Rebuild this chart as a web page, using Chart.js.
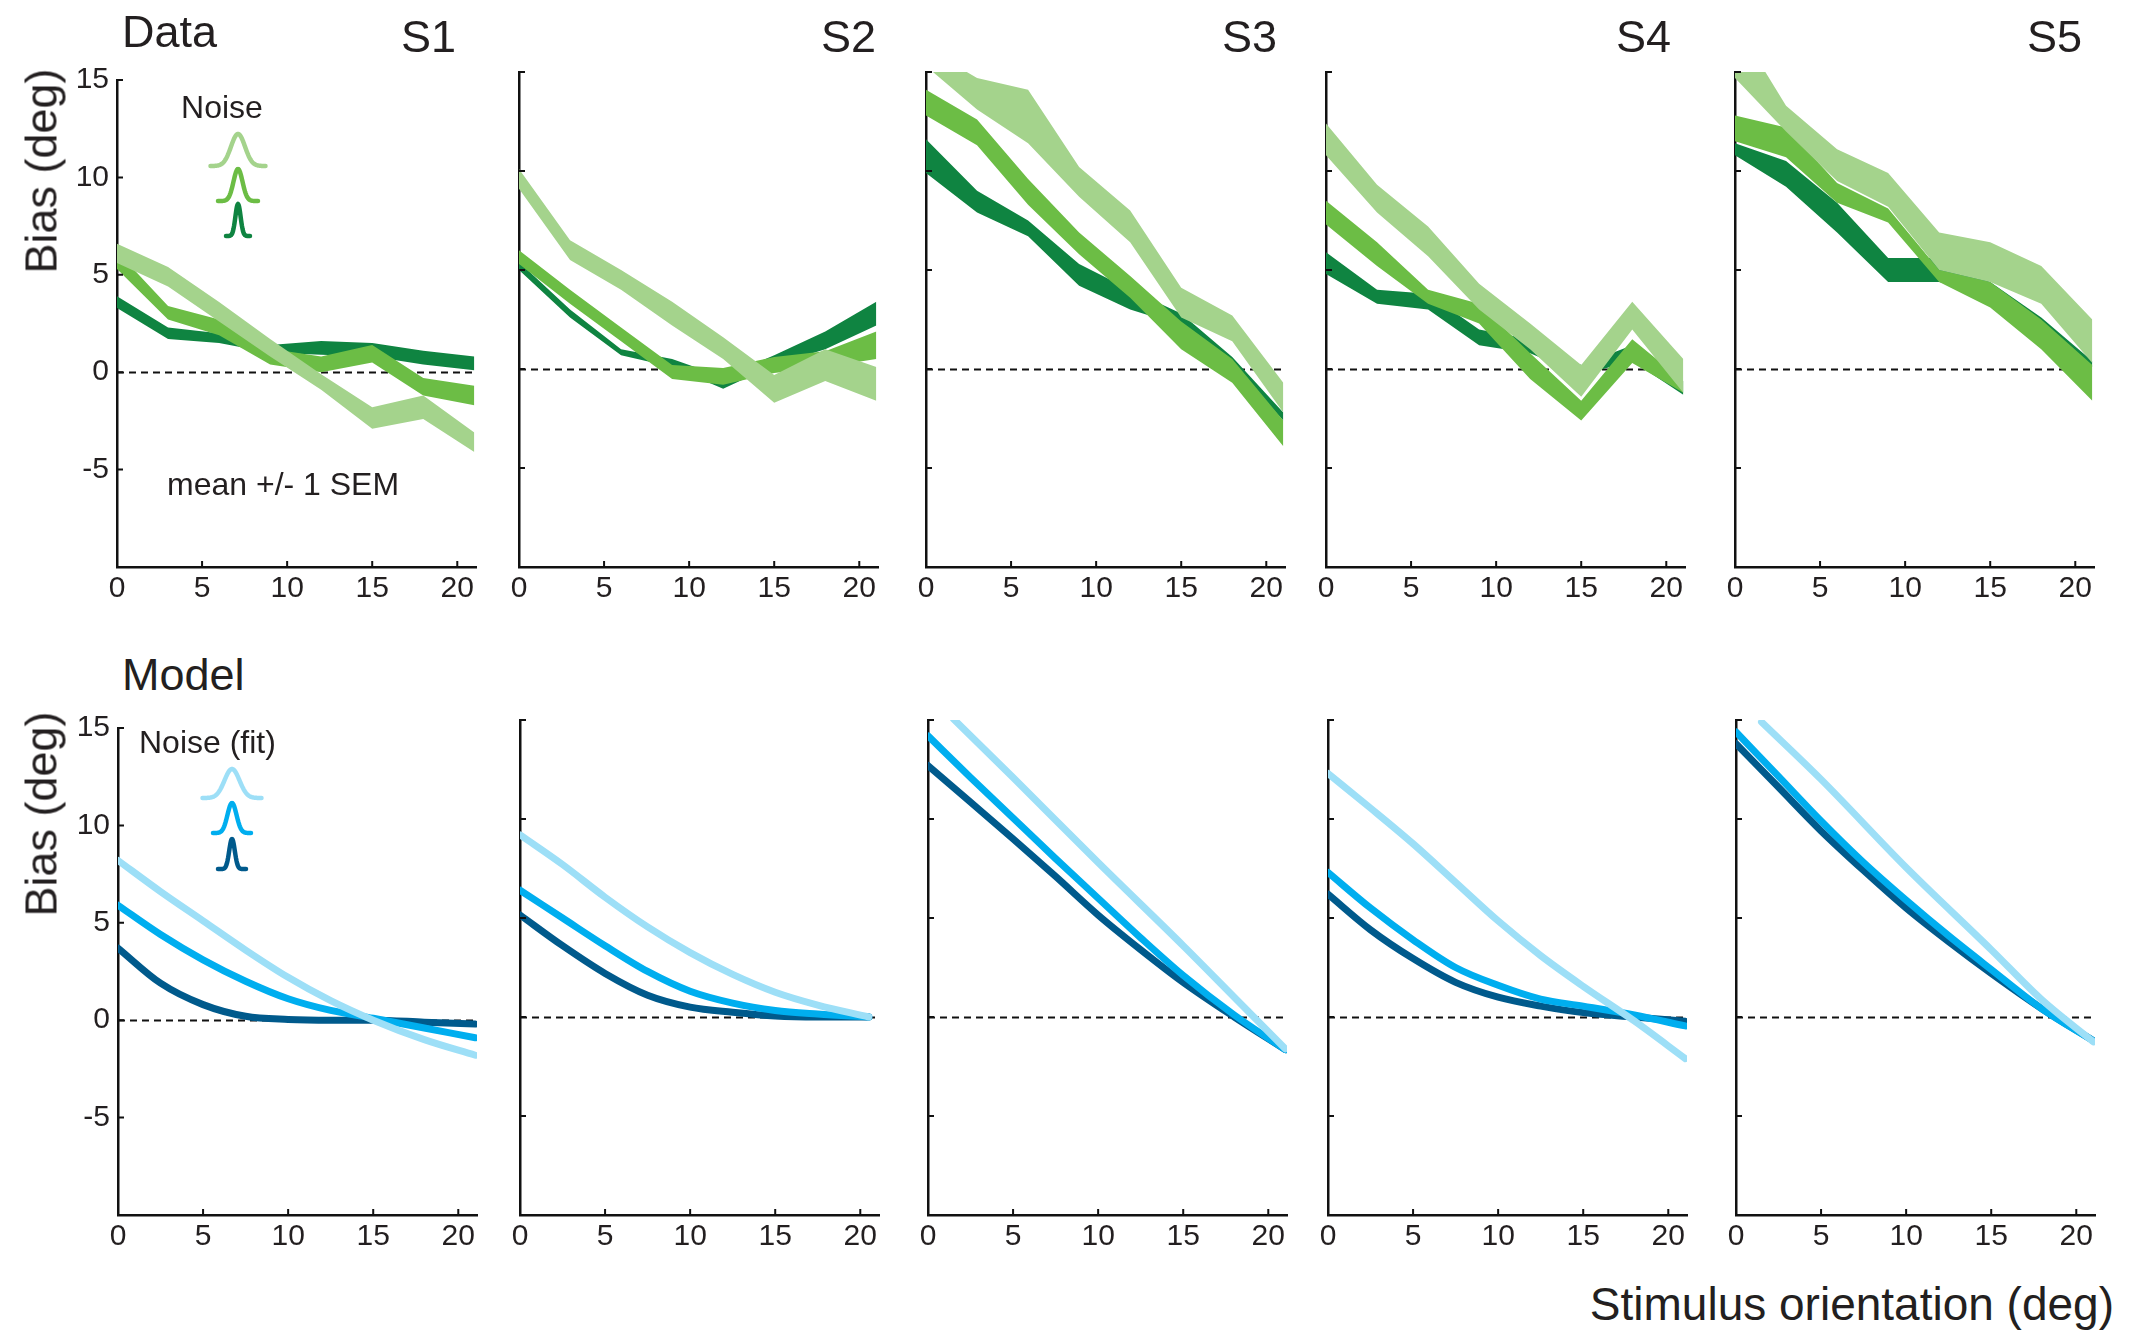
<!DOCTYPE html>
<html>
<head>
<meta charset="utf-8">
<script src="https://cdn.jsdelivr.net/npm/chart.js@4.4.1/dist/chart.umd.min.js"></script>
<style>
  html, body { margin: 0; padding: 0; background: #fff; }
  #fig { position: relative; width: 2130px; height: 1332px; overflow: hidden;
         font-family: "Liberation Sans", Arial, Helvetica, sans-serif; color: #231f20; }
  #fig canvas { position: absolute; }
  .txt { position: absolute; white-space: nowrap; line-height: 1; }
</style>
</head>
<body>
<div id="fig"></div>
<script>
// Bias vs stimulus orientation: data bands (mean +/- 1 SEM) on top row,
// model fits on bottom row, one column per subject.

const SUBJECTS = ['S1', 'S2', 'S3', 'S4', 'S5'];
const ANGLES = [0, 3, 6, 9, 12, 15, 18, 21];
const X_TICKS = [0, 5, 10, 15, 20];
const Y_TICKS = [-5, 0, 5, 10, 15];

// --- data row: upper / lower edge of each band ---
const S1_LIGHT_HI = [6.6, 5.4, 3.6, 1.7, -0.1, -1.8, -1.2, -3.1];
const S1_LIGHT_LO = [5.6, 4.4, 2.6, 0.8, -0.9, -2.9, -2.4, -4.1];
const S1_MED_HI   = [6.2, 3.4, 2.7, 1.2, 0.8, 1.4, -0.3, -0.7];
const S1_MED_LO   = [5.3, 2.7, 1.9, 0.4, 0.0, 0.5, -1.2, -1.7];
const S1_DARK_HI  = [3.9, 2.3, 2.0, 1.4, 1.6, 1.5, 1.1, 0.8];
const S1_DARK_LO  = [3.3, 1.7, 1.5, 1.0, 0.9, 0.8, 0.4, 0.1];

const S2_LIGHT_HI = [10.1, 6.5, 5.0, 3.4, 1.6, -0.3, 1.0, 0.1];
const S2_LIGHT_LO = [9.1, 5.5, 4.0, 2.2, 0.5, -1.7, -0.6, -1.6];
const S2_MED_HI   = [6.0, 4.0, 2.1, 0.2, 0.05, 0.6, 0.9, 1.9];
const S2_MED_LO   = [5.3, 3.3, 1.4, -0.5, -0.8, -0.2, 0.1, 0.5];
const S2_DARK_HI  = [5.4, 3.0, 1.0, 0.5, -0.4, 0.7, 1.9, 3.4];
const S2_DARK_LO  = [5.0, 2.6, 0.7, 0.1, -1.0, 0.2, 1.0, 2.2];

const S3_LIGHT_HI = [16.2, 14.7, 14.1, 10.2, 8.0, 4.1, 2.7, -0.7];
const S3_LIGHT_LO = [15.3, 13.1, 11.4, 8.7, 6.4, 2.6, 1.4, -2.2];
const S3_MED_HI   = [14.1, 12.6, 9.6, 6.9, 4.7, 2.4, 0.5, -2.6];
const S3_MED_LO   = [12.8, 11.3, 8.3, 5.8, 3.6, 1.0, -0.7, -3.9];
const S3_DARK_HI  = [11.6, 9.0, 7.5, 5.3, 4.0, 2.8, 0.6, -2.2];
const S3_DARK_LO  = [9.9, 7.9, 6.7, 4.2, 3.0, 2.2, 0.2, -2.6];

const S4_LIGHT_HI = [12.4, 9.3, 7.2, 4.3, 2.3, 0.2, 3.4, 0.5];
const S4_LIGHT_LO = [10.8, 7.9, 5.7, 3.0, 1.0, -1.4, 2.0, -1.2];
const S4_MED_HI   = [8.5, 6.4, 4.0, 3.3, 0.8, -1.6, 1.5, -0.6];
const S4_MED_LO   = [7.3, 5.2, 3.3, 2.3, -0.5, -2.6, 0.3, -1.2];
const S4_DARK_HI  = [5.9, 4.0, 3.8, 2.0, 1.5, 0.2, 1.2, -0.6];
const S4_DARK_LO  = [4.8, 3.3, 3.0, 1.2, 0.8, -0.3, 0.4, -1.3];

const S5_LIGHT_HI = [17.5, 13.3, 11.1, 9.9, 6.9, 6.4, 5.2, 2.5];
const S5_LIGHT_LO = [14.7, 12.0, 9.5, 8.2, 5.0, 4.4, 3.3, 0.3];
const S5_MED_HI   = [12.8, 12.2, 9.4, 8.1, 5.0, 4.4, 2.5, 0.2];
const S5_MED_LO   = [11.5, 10.7, 8.4, 7.4, 4.4, 3.1, 1.0, -1.6];
const S5_DARK_HI  = [11.4, 10.5, 8.4, 5.6, 5.6, 4.4, 2.6, 0.4];
const S5_DARK_LO  = [10.8, 9.2, 6.9, 4.4, 4.4, 3.8, 2.0, 0.1];

// --- model row ---
const MODEL_X    = [0, 2.5, 5, 7.5, 10, 12.5, 15, 18, 21];
const MODEL_X_S2 = [0, 2.5, 5, 7.5, 10, 12.5, 15, 17.5, 20.5];
const MODEL_X_LINE = [1.5, 5, 10, 15, 18, 21];

const S1_FIT_LIGHT = [8.2, 6.6, 5.1, 3.6, 2.2, 1.0, 0.0, -1.0, -1.8];
const S1_FIT_MED   = [5.9, 4.4, 3.1, 2.0, 1.1, 0.5, 0.1, -0.4, -0.9];
const S1_FIT_DARK  = [3.7, 1.9, 0.8, 0.2, 0.04, 0.0, 0.0, -0.1, -0.2];

const S2_FIT_LIGHT = [9.2, 7.7, 6.05, 4.55, 3.25, 2.15, 1.25, 0.6, 0.0];
const S2_FIT_MED   = [6.4, 5.0, 3.6, 2.3, 1.3, 0.7, 0.33, 0.15, 0.0];
const S2_FIT_DARK  = [5.15, 3.6, 2.2, 1.1, 0.5, 0.24, 0.05, 0.0, 0.0];

const S3_FIT_LIGHT = [15.05, 12.1, 7.8, 3.6, 1.0, -1.6];
const S3_FIT_MED   = [14.2, 12.1, 10.05, 8.0, 6.0, 4.0, 2.1, 0.1, -1.65];
const S3_FIT_DARK  = [12.7, 10.85, 9.0, 7.1, 5.15, 3.4, 1.75, 0.0, -1.65];

const S4_FIT_LIGHT = [12.3, 10.55, 8.75, 6.8, 4.85, 3.1, 1.55, -0.2, -2.1];
const S4_FIT_MED   = [7.3, 5.5, 3.9, 2.5, 1.6, 0.9, 0.55, 0.1, -0.45];
const S4_FIT_DARK  = [6.2, 4.4, 2.95, 1.75, 1.0, 0.55, 0.22, 0.0, -0.22];

const S5_FIT_LIGHT = [14.9, 12.0, 7.55, 3.4, 0.85, -1.25];
const S5_FIT_MED   = [14.4, 12.15, 9.9, 7.8, 5.9, 4.1, 2.4, 0.4, -1.2];
const S5_FIT_DARK  = [13.8, 11.6, 9.4, 7.4, 5.5, 3.8, 2.2, 0.4, -1.2];

// ---------- look ----------
const FONT = '"Liberation Sans", Arial, Helvetica, sans-serif';
const INK = '#231f20';
const AXIS = '#111';
const GREEN = { light: '#a4d38c', med: '#6cbd45', dark: '#0f8441' };
const BLUE  = { light: '#9ddff7', med: '#00aeef', dark: '#005a8c' };

const AXIS_LEFT = [[117, 519, 926, 1326, 1735], [118, 520, 928, 1328, 1736]];
const PLOT_TOP = [72, 720];
const PLOT_W = 359, PLOT_H = 495;
const X_MAX = 21.1;
const GUT_L = 70, GUT_B = 50, PAD_T = 18, PAD_R = 16;
const TICK_LEN = 6;

const fig = document.getElementById('fig');
const pts = (xs, ys) => ys.map((y, i) => ({ x: xs[i], y }));

function band(hi, lo, color) {
  return [
    { data: pts(ANGLES, hi), fill: '+1', backgroundColor: color, borderColor: 'rgba(0,0,0,0)', borderWidth: 0, pointRadius: 0 },
    { data: pts(ANGLES, lo), fill: false, borderColor: 'rgba(0,0,0,0)', borderWidth: 0, pointRadius: 0 }
  ];
}

function curve(xs, ys, color) {
  return {
    data: pts(xs, ys), borderColor: color, borderWidth: 7, fill: false, pointRadius: 0,
    borderCapStyle: 'round', borderJoinStyle: 'round', cubicInterpolationMode: 'monotone'
  };
}

const innerTicks = {
  id: 'innerTicks',
  afterDraw(chart) {
    const { ctx, chartArea: a, scales: { x, y } } = chart;
    ctx.save();
    ctx.strokeStyle = AXIS;
    ctx.lineWidth = 2;
    ctx.beginPath();
    X_TICKS.forEach(v => { const p = x.getPixelForValue(v); ctx.moveTo(p, a.bottom); ctx.lineTo(p, a.bottom - TICK_LEN); });
    Y_TICKS.forEach(v => { const p = y.getPixelForValue(v); ctx.moveTo(a.left, p); ctx.lineTo(a.left + TICK_LEN, p); });
    ctx.stroke();
    ctx.restore();
  }
};

const zeroLine = {
  id: 'zeroLine',
  beforeDatasetsDraw(chart) {
    const { ctx, chartArea: a, scales: { y } } = chart;
    const p = Math.round(y.getPixelForValue(0)) + 0.5;
    ctx.save();
    ctx.setLineDash([7, 5]);
    ctx.lineWidth = 1.8;
    ctx.strokeStyle = AXIS;
    ctx.beginPath();
    ctx.moveTo(a.left, p);
    ctx.lineTo(a.right, p);
    ctx.stroke();
    ctx.restore();
  }
};

// little gaussian bumps used as the noise legend
const noiseGlyphs = {
  id: 'noiseGlyphs',
  afterDatasetsDraw(chart, args, opts) {
    if (!opts.items) return;
    const { ctx } = chart;
    ctx.save();
    ctx.lineWidth = 4.5;
    ctx.lineCap = 'round';
    ctx.lineJoin = 'round';
    opts.items.forEach(g => {
      const cx = g.cx - opts.offX, base = g.base - opts.offY;
      ctx.strokeStyle = g.color;
      ctx.beginPath();
      for (let t = -g.w / 2; t <= g.w / 2 + 0.01; t += 0.5) {
        const yy = base - g.h * Math.exp(-(t * t) / (2 * g.s * g.s));
        if (t === -g.w / 2) ctx.moveTo(cx + t, yy); else ctx.lineTo(cx + t, yy);
      }
      ctx.stroke();
    });
    ctx.restore();
  }
};

function makePanel(row, col, datasets, glyphs) {
  const left = AXIS_LEFT[row][col] - GUT_L;
  const top = PLOT_TOP[row] - PAD_T;
  const w = GUT_L + PLOT_W + PAD_R;
  const h = PAD_T + PLOT_H + GUT_B;
  const canvas = document.createElement('canvas');
  canvas.width = w; canvas.height = h;
  canvas.style.left = left + 'px'; canvas.style.top = top + 'px';
  canvas.style.width = w + 'px'; canvas.style.height = h + 'px';
  fig.appendChild(canvas);

  const tickFont = { family: FONT, size: 30 };
  new Chart(canvas.getContext('2d'), {
    type: 'line',
    data: { datasets },
    options: {
      responsive: false,
      animation: false,
      events: [],
      layout: { padding: { top: PAD_T, right: PAD_R, left: 0, bottom: 0 } },
      plugins: {
        legend: { display: false },
        tooltip: { enabled: false },
        noiseGlyphs: glyphs ? { items: glyphs, offX: left, offY: top } : {}
      },
      scales: {
        x: {
          type: 'linear', min: 0, max: X_MAX,
          afterBuildTicks: s => { s.ticks = X_TICKS.map(v => ({ value: v })); },
          afterFit: s => { s.height = GUT_B; },
          grid: { display: false, drawTicks: false },
          border: { color: AXIS, width: 2.5 },
          ticks: { color: INK, font: tickFont, padding: 4, maxRotation: 0, autoSkip: false }
        },
        y: {
          type: 'linear', min: -10, max: 15,
          afterBuildTicks: s => { s.ticks = Y_TICKS.map(v => ({ value: v })); },
          afterFit: s => { s.width = GUT_L; },
          grid: { display: false, drawTicks: false },
          border: { color: AXIS, width: 2.5 },
          ticks: { display: col === 0, color: INK, font: tickFont, padding: 8 }
        }
      }
    },
    plugins: [zeroLine, innerTicks, noiseGlyphs]
  });
}

function addText(str, x, baseline, size, align) {
  const d = document.createElement('div');
  d.className = 'txt';
  d.textContent = str;
  d.style.fontSize = size + 'px';
  d.style.left = x + 'px';
  d.style.top = (baseline - 0.846 * size) + 'px';
  if (align === 'right') d.style.transform = 'translateX(-100%)';
  if (align === 'center') d.style.transform = 'translateX(-50%)';
  fig.appendChild(d);
}

function addVertical(str, cx, cy, size) {
  const d = document.createElement('div');
  d.className = 'txt';
  d.textContent = str;
  d.style.fontSize = size + 'px';
  d.style.left = cx + 'px';
  d.style.top = cy + 'px';
  d.style.transform = 'translate(-50%, -50%) rotate(-90deg)';
  fig.appendChild(d);
}

const DATA_BANDS = [
  [S1_LIGHT_HI, S1_LIGHT_LO, S1_MED_HI, S1_MED_LO, S1_DARK_HI, S1_DARK_LO],
  [S2_LIGHT_HI, S2_LIGHT_LO, S2_MED_HI, S2_MED_LO, S2_DARK_HI, S2_DARK_LO],
  [S3_LIGHT_HI, S3_LIGHT_LO, S3_MED_HI, S3_MED_LO, S3_DARK_HI, S3_DARK_LO],
  [S4_LIGHT_HI, S4_LIGHT_LO, S4_MED_HI, S4_MED_LO, S4_DARK_HI, S4_DARK_LO],
  [S5_LIGHT_HI, S5_LIGHT_LO, S5_MED_HI, S5_MED_LO, S5_DARK_HI, S5_DARK_LO]
];

const FITS = [
  [[MODEL_X, S1_FIT_LIGHT], [MODEL_X, S1_FIT_MED], [MODEL_X, S1_FIT_DARK]],
  [[MODEL_X_S2, S2_FIT_LIGHT], [MODEL_X_S2, S2_FIT_MED], [MODEL_X_S2, S2_FIT_DARK]],
  [[MODEL_X_LINE, S3_FIT_LIGHT], [MODEL_X, S3_FIT_MED], [MODEL_X, S3_FIT_DARK]],
  [[MODEL_X, S4_FIT_LIGHT], [MODEL_X, S4_FIT_MED], [MODEL_X, S4_FIT_DARK]],
  [[MODEL_X_LINE, S5_FIT_LIGHT], [MODEL_X, S5_FIT_MED], [MODEL_X, S5_FIT_DARK]]
];

const DATA_GLYPHS = [
  { cx: 238, base: 166, w: 55, h: 32, s: 7, color: GREEN.light },
  { cx: 238, base: 201, w: 40, h: 32, s: 4.5, color: GREEN.med },
  { cx: 238, base: 236, w: 24, h: 32, s: 2.6, color: GREEN.dark }
];
const MODEL_GLYPHS = [
  { cx: 232, base: 798, w: 59, h: 29, s: 7.5, color: BLUE.light },
  { cx: 232, base: 833, w: 38, h: 30, s: 4.5, color: BLUE.med },
  { cx: 232, base: 869, w: 28, h: 30, s: 2.8, color: BLUE.dark }
];

SUBJECTS.forEach((s, i) => {
  const b = DATA_BANDS[i];
  makePanel(0, i, [
    ...band(b[0], b[1], GREEN.light),
    ...band(b[2], b[3], GREEN.med),
    ...band(b[4], b[5], GREEN.dark)
  ], i === 0 ? DATA_GLYPHS : null);

  const f = FITS[i];
  makePanel(1, i, [
    curve(f[0][0], f[0][1], BLUE.light),
    curve(f[1][0], f[1][1], BLUE.med),
    curve(f[2][0], f[2][1], BLUE.dark)
  ], i === 0 ? MODEL_GLYPHS : null);
});

// ---------- text ----------
const S_RIGHT = [456, 876, 1277, 1671, 2082];
SUBJECTS.forEach((s, i) => addText(s, S_RIGHT[i], 52, 45, 'right'));
addText('Data', 122, 47, 45, 'left');
addText('Model', 122, 690, 45, 'left');
addText('Noise', 222, 118, 32, 'center');
addText('mean +/- 1 SEM', 167, 495, 32, 'left');
addText('Noise (fit)', 139, 753, 32, 'left');
addVertical('Bias (deg)', 41, 171, 45);
addVertical('Bias (deg)', 41, 814, 45);
addText('Stimulus orientation (deg)', 2114, 1320, 46, 'right');
</script>
</body>
</html>
